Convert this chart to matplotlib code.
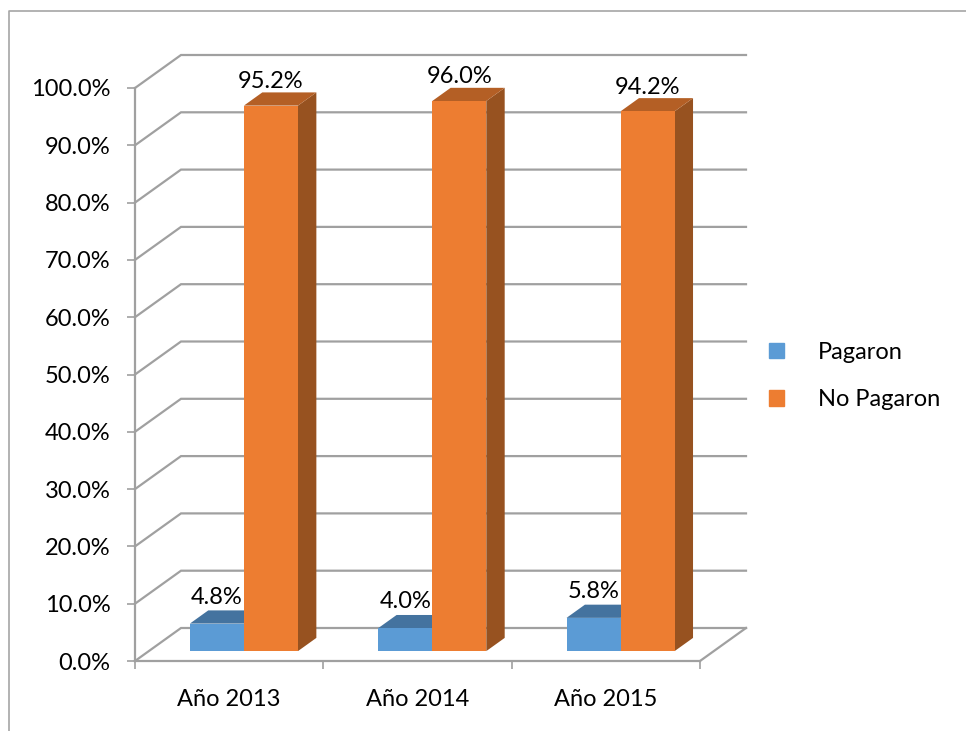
import matplotlib
matplotlib.use("Agg")
import matplotlib.pyplot as plt
from matplotlib.patches import Polygon, Patch

plt.rcParams['font.family'] = ['Lato', 'DejaVu Sans']

categories = ["Año 2013", "Año 2014", "Año 2015"]
pagaron = [4.8, 4.0, 5.8]
no_pagaron = [95.2, 96.0, 94.2]
y_ticks = [0, 10, 20, 30, 40, 50, 60, 70, 80, 90, 100]

W, H = 966, 731
fig = plt.figure(figsize=(W / 100, H / 100), dpi=100)
# axes box = front plane of the 3d chart, in pixels of the picture
left, right, top, bottom = 135, 700, 88, 661
ax = fig.add_axes([left / W, 1 - bottom / H, (right - left) / W, (bottom - top) / H])
ax.set_xlim(0, 3)
ax.set_ylim(0, 100)

grid_col = '#a0a0a0'
# how far the back wall is shifted, in data units
depth_x = 46 / ((right - left) / 3)
depth_y = 33 / ((bottom - top) / 100)


def proj(x, y, d):
    return x + d * depth_x, y + d * depth_y


def face(pts, col, z):
    ax.add_patch(Polygon(pts, closed=True, facecolor=col, edgecolor='none', zorder=z, clip_on=False))


def bar3d(x0, x1, val, front, side, roof, z):
    d0, d1 = 0.3, 0.7
    face([proj(x1, 0, d0), proj(x1, 0, d1), proj(x1, val, d1), proj(x1, val, d0)], side, z)
    face([proj(x0, val, d0), proj(x1, val, d0), proj(x1, val, d1), proj(x0, val, d1)], roof, z)
    face([proj(x0, 0, d0), proj(x1, 0, d0), proj(x1, val, d0), proj(x0, val, d0)], front, z + 0.1)


# walls
for v in y_ticks:
    xs, ys = zip(proj(0, v, 0), proj(0, v, 1), proj(3, v, 1))
    ax.plot(xs, ys, color=grid_col, lw=1.6, clip_on=False, zorder=1, solid_joinstyle='miter')
xs, ys = zip(proj(3, 0, 0), proj(3, 0, 1))
ax.plot(xs, ys, color=grid_col, lw=1.6, clip_on=False, zorder=1)

bw = 0.287
for i in range(3):
    c = i + 0.505
    bar3d(c - bw, c, pagaron[i], '#5b9bd5', '#44739f', '#44739f', 3)
    bar3d(c, c + bw, no_pagaron[i], '#ed7d31', '#975220', '#b45f25', 4)
    ax.annotate("{:.1f}%".format(pagaron[i]), proj(c - bw / 2, pagaron[i], 0.3), xytext=(0, 19),
                textcoords='offset points', ha='center', va='center', fontsize=17, color='black',
                annotation_clip=False, zorder=6)
    ax.annotate("{:.1f}%".format(no_pagaron[i]), proj(c + bw / 2, no_pagaron[i], 0.3), xytext=(0, 17.5),
                textcoords='offset points', ha='center', va='center', fontsize=17, color='black',
                annotation_clip=False, zorder=6)

ax.patch.set_visible(False)
for s in ['top', 'right']:
    ax.spines[s].set_visible(False)
for s in ['left', 'bottom']:
    ax.spines[s].set_color(grid_col)
    ax.spines[s].set_linewidth(1.6)

ax.set_yticks(y_ticks)
ax.set_yticklabels(["{:.1f}%".format(v) for v in y_ticks], fontsize=17)
ax.set_xticks([0, 1, 2, 3])
ax.set_xticklabels([])
ax.set_xticks([0.5, 1.5, 2.5], minor=True)
ax.set_xticklabels(categories, minor=True, fontsize=17)
ax.tick_params(axis='y', length=5.5, width=1.2, color=grid_col, pad=12)
ax.tick_params(axis='x', which='major', length=5.5, width=1.2, color=grid_col)
ax.tick_params(axis='x', which='minor', length=0, pad=20)

handles = [Patch(color='#5b9bd5', label='Pagaron'), Patch(color='#ed7d31', label='No Pagaron')]
fig.legend(handles=handles, loc='center left', bbox_to_anchor=(769 / W, 1 - 376 / H), frameon=False,
           fontsize=17, handlelength=0.64, handleheight=0.64, handletextpad=1.44, labelspacing=1.13,
           borderpad=0, borderaxespad=0)

# outer chart frame, cut at the left and right
fig.add_artist(plt.Line2D([9 / W, 9 / W, 1], [0, 1 - 11 / H, 1 - 11 / H], color='#a6a6a6', lw=1.2))

fig.savefig("out.png", dpi=100)
